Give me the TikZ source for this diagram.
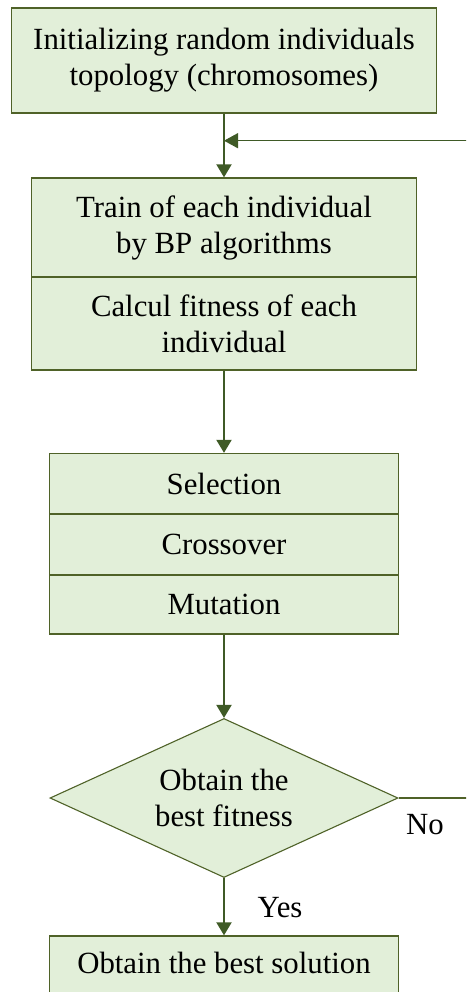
\documentclass[tikz,border=0pt]{standalone}
\usepackage{fontspec}
\setmainfont{Liberation Serif}
\usetikzlibrary{shapes.geometric,arrows.meta}
\definecolor{boxfill}{HTML}{E2EFD9}
\definecolor{boxdraw}{HTML}{4F6228}
\definecolor{arr}{HTML}{3F5A26}
\begin{document}
\begin{tikzpicture}[x=1pt,y=-1pt,
  every node/.style={font=\fontsize{30.8}{36}\selectfont},
  box/.style={draw=boxdraw,fill=boxfill,line width=1.3pt,rectangle,inner sep=0pt,align=center},
  dec/.style={draw=boxdraw,fill=boxfill,line width=1.1pt,diamond,inner sep=0pt,align=center,aspect=2.19},
  flow/.style={draw=arr,line width=2pt,-{Triangle[length=13pt,width=15pt]}},
  back/.style={draw=arr,line width=1.4pt,-{Triangle[length=14pt,width=15pt]}},
  plain/.style={draw=boxdraw,line width=1.3pt},
  lbl/.style={inner sep=0pt}]
\useasboundingbox (0,0) rectangle (466,992);
\clip (0,0) rectangle (466,992);
\node[box,minimum width=425pt,minimum height=105pt] (b1) at (224,60.5) {Initializing random individuals\\topology (chromosomes)};
\node[box,minimum width=385pt,minimum height=99pt] (b2a) at (224,227.5) {Train of each individual\\by BP algorithms};
\node[box,minimum width=385pt,minimum height=93pt] (b2b) at (224,323.5) {Calcul fitness of each\\individual};
\node[box,minimum width=349pt,minimum height=61pt] (s) at (224,484) {Selection};
\node[box,minimum width=349pt,minimum height=61pt] (c) at (224,544.5) {Crossover};
\node[box,minimum width=349pt,minimum height=59pt] (m) at (224,604.5) {Mutation};
\node[dec,minimum width=348pt,minimum height=159pt] (d) at (224,798) {Obtain the\\best fitness};
\node[box,minimum width=349pt,minimum height=80pt,text depth=0pt] (f) at (224,976) {};
\node[lbl] (ft) at (224,963) {Obtain the best solution};
\coordinate (j) at (224,140.7);
\coordinate (fb) at (470,140.7);
\coordinate (noend) at (470,798);
\draw[flow] (b1.south) -- (b2a.north);
\draw[back] (fb) -- (j);
\draw[flow] (b2b.south) -- (s.north);
\draw[flow] (m.south) -- (d.north);
\draw[flow] (d.south) -- (f.north);
\draw[plain] (d.east) -- (noend);
\node[lbl] (no) at (425,825) {No};
\node[lbl] (yes) at (280,908) {Yes};
\end{tikzpicture}
\end{document}
